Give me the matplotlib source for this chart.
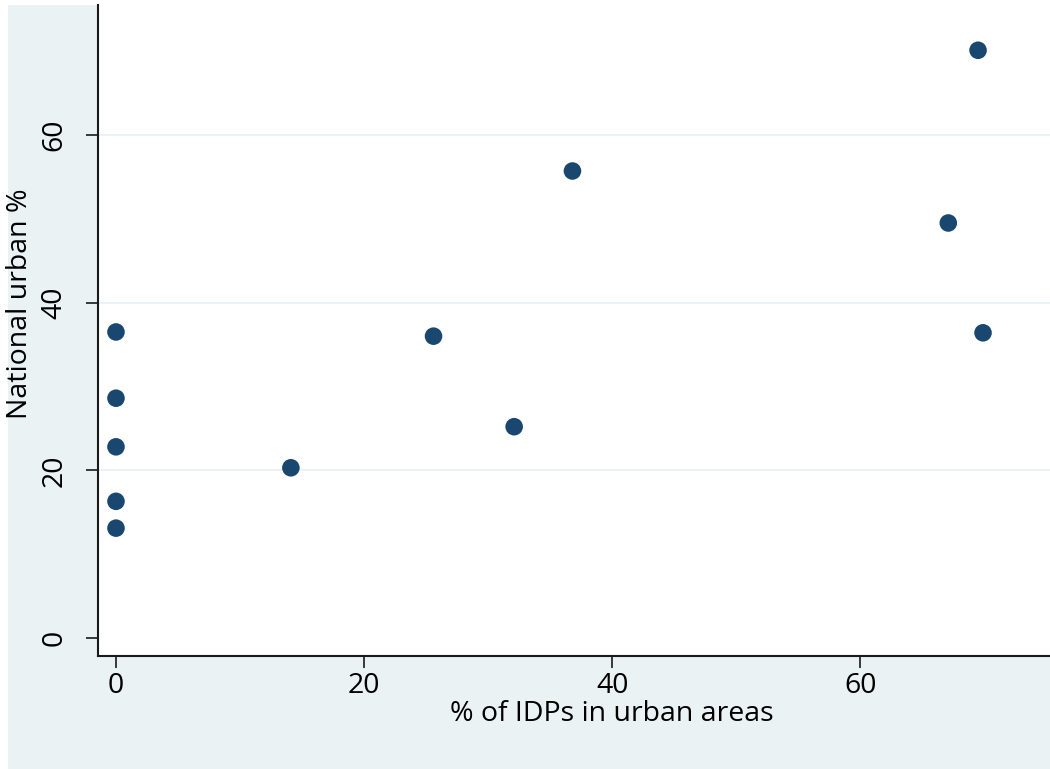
import matplotlib
matplotlib.use("Agg")
import matplotlib.pyplot as plt
from matplotlib.patches import Rectangle

# Data
idp_urban_pct = [0, 0, 0, 0, 0, 14.1, 25.6, 32.1, 36.8, 67.1, 69.5, 69.9]
national_urban_pct = [36.5, 28.6, 22.8, 16.3, 13.1, 20.3, 36.0, 25.2, 55.7, 49.5, 70.1, 36.4]
x_ticks = [0, 20, 40, 60]
y_ticks = [0, 20, 40, 60]
x_label = "% of IDPs in urban areas"
y_label = "National urban %"

W, H = 1050, 769
BG = "#EAF2F3"
NAVY = "#1A476F"
plt.rcParams['font.family'] = ['Open Sans', 'DejaVu Sans']
FS = 20.5

fig = plt.figure(figsize=(W / 100, H / 100), dpi=100)
fig.patch.set_facecolor("white")
fig.patches.append(Rectangle((8 / W, 0), 1 - 8 / W, 1 - 5 / H, transform=fig.transFigure,
                             facecolor=BG, edgecolor="none", zorder=-10))

ax = fig.add_axes([98 / W, 1 - 656 / H, 1 - 98 / W, (656 - 5) / H])
ax.set_facecolor("white")
ax.scatter(idp_urban_pct, national_urban_pct, s=160, color=NAVY, edgecolors="none", zorder=3)

ax.set_xlim(-1.45, 75.3)
ax.set_ylim(-2.15, 75.5)
ax.set_xticks(x_ticks)
ax.set_yticks(y_ticks)
ax.set_yticklabels([str(v) for v in y_ticks], rotation=90, va="center")
for v in y_ticks[1:]:
    ax.axhline(v, color=BG, lw=1.5, zorder=1)

for s in ["top", "right"]:
    ax.spines[s].set_visible(False)
for s in ["left", "bottom"]:
    ax.spines[s].set_linewidth(1.5)
    ax.spines[s].set_color("#1a1a1a")
ax.tick_params(axis="both", length=8.5, width=1.2, color="#1a1a1a", labelsize=FS, labelcolor="black")
ax.tick_params(axis="x", pad=3)
ax.tick_params(axis="y", pad=13)

fig.text(612 / W, 1 - 714 / H, x_label, fontsize=FS, ha="center", va="center")
fig.text(20 / W, 1 - 304 / H, y_label, fontsize=FS, ha="center", va="center", rotation=90)

fig.savefig("out.png", dpi=100, facecolor=fig.get_facecolor())
